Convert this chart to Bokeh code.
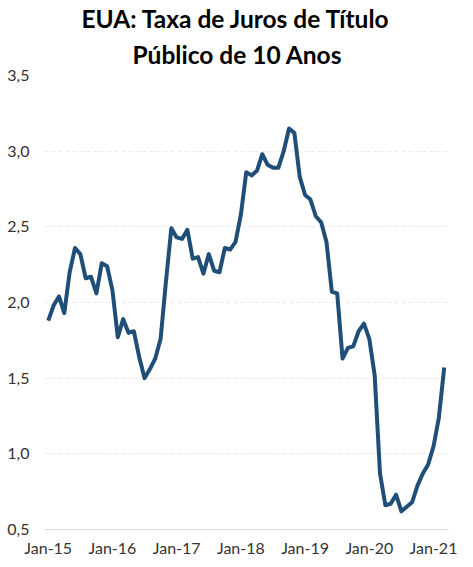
from bokeh.embed import file_html
from bokeh.models import FixedTicker, Range1d, Title
from bokeh.plotting import figure
from bokeh.resources import INLINE

# monthly 10y yield, Jan-15 .. Mar-21
yields = [
    1.88, 1.98, 2.04, 1.93, 2.20, 2.36, 2.32, 2.16, 2.17, 2.06, 2.26, 2.24,
    2.08, 1.77, 1.89, 1.80, 1.81, 1.64, 1.50, 1.56, 1.63, 1.76, 2.14, 2.49,
    2.43, 2.42, 2.48, 2.29, 2.30, 2.19, 2.32, 2.21, 2.20, 2.36, 2.35, 2.40,
    2.58, 2.86, 2.84, 2.87, 2.98, 2.91, 2.89, 2.89, 3.00, 3.15, 3.12, 2.83,
    2.71, 2.68, 2.57, 2.53, 2.40, 2.07, 2.06, 1.63, 1.70, 1.71, 1.81, 1.86,
    1.76, 1.52, 0.87, 0.66, 0.67, 0.73, 0.62, 0.65, 0.68, 0.79, 0.87, 0.93,
    1.05, 1.24, 1.57,
]
tick_labels = ["Jan-15", "Jan-16", "Jan-17", "Jan-18", "Jan-19", "Jan-20", "Jan-21"]
y_ticks = [0.5, 1.0, 1.5, 2.0, 2.5, 3.0, 3.5]

months = list(range(len(yields)))
tick_pos = [12 * i for i in range(len(tick_labels))]

font = "Lato"
text_color = "#333333"

p = figure(frame_width=404, frame_height=454, output_backend="svg", toolbar_location=None,
           x_range=Range1d(-0.7, 74.8), y_range=Range1d(0.5, 3.5),
           min_border_left=44, min_border_right=20, min_border_top=75,
           min_border_bottom=30)
p.outline_line_color = None

p.add_layout(Title(text="Público de 10 Anos", align="left", offset=88,
                   text_font=font, text_font_size="24.5px", text_font_style="bold",
                   text_color="black", standoff=13), "above")
p.add_layout(Title(text="EUA: Taxa de Juros de Título", align="left", offset=37,
                   text_font=font, text_font_size="24.5px", text_font_style="bold",
                   text_color="black", standoff=-3), "above")

p.line(months, yields, line_color="#1F4E79", line_width=4, line_join="round")

p.xaxis.ticker = FixedTicker(ticks=tick_pos)
p.xaxis.major_label_overrides = {pos: lab for pos, lab in zip(tick_pos, tick_labels)}
p.yaxis.ticker = FixedTicker(ticks=y_ticks)
p.yaxis.major_label_overrides = {v: f"{v:.1f}".replace(".", ",") for v in y_ticks}

for ax in (p.xaxis, p.yaxis):
    ax.major_tick_line_color = None
    ax.minor_tick_line_color = None
    ax.major_tick_out = 0
    ax.major_tick_in = 0
    ax.minor_tick_out = 0
    ax.major_label_text_font = font
    ax.major_label_text_font_size = "16px"
    ax.major_label_text_color = text_color
p.yaxis.axis_line_color = None
p.yaxis.major_label_standoff = 15
p.xaxis.axis_line_color = "#D9D9D9"
p.xaxis.major_label_standoff = 8

p.xgrid.grid_line_color = None
p.ygrid.grid_line_color = "#EBEBEB"
p.ygrid.grid_line_dash = "4 3"

open("out.html", "w").write(file_html(p, INLINE))
